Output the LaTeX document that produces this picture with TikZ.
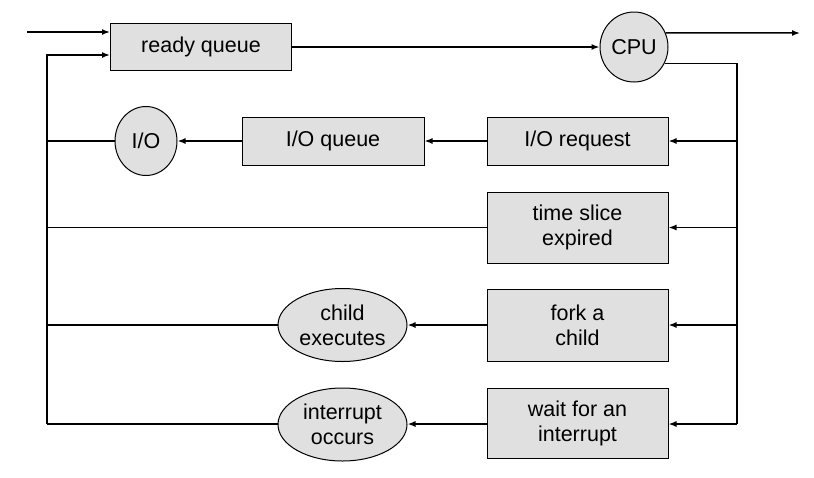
\documentclass[tikz,border=0pt]{standalone}
\usepackage{fontspec}
\setmainfont{Liberation Sans}
\usetikzlibrary{shapes.geometric,arrows.meta}
\begin{document}
\begin{tikzpicture}[x=1pt,y=-1pt,
  every node/.style={font=\fontsize{21.5}{25}\selectfont, align=center, inner sep=0pt},
  box/.style={draw, line width=1pt, fill=black!12, minimum width=181pt},
  circ/.style={draw, line width=1pt, fill=black!12, ellipse},
  ln/.style={line width=1.5pt},
  arr/.style={ln, -{Latex[length=8pt,width=6pt]}}]
\useasboundingbox (0,0) rectangle (814,477);
% nodes
\node[box, minimum height=47pt] (rq) at (201,46.5) {ready queue};
\node[circ, minimum width=68pt, minimum height=70pt] (cpu) at (634,47) {CPU};
\node[box, minimum height=48pt] (ioreq) at (577.5,141) {I/O request};
\node[box, minimum height=48pt, minimum width=182pt] (ioq) at (333,141) {I/O queue};
\node[circ, minimum width=62pt, minimum height=69pt] (io) at (146,141) {I/O};
\node[box, minimum height=71pt] (ts) at (577.5,227.5) {time slice\\expired};
\node[box, minimum height=72pt] (fork) at (577.5,325) {fork a\\child};
\node[circ, minimum width=129pt, minimum height=73pt] (child) at (342.5,325) {child\\executes};
\node[box, minimum height=70pt] (wait) at (577.5,423.5) {wait for an\\interrupt};
\node[circ, minimum width=129pt, minimum height=73pt] (intr) at (342.5,424.5) {interrupt\\occurs};
% coordinates
\coordinate (in) at (27,32);
\coordinate (ltop) at (47,55);
\coordinate (lbot) at (47,424);
\coordinate (rtop) at (737,63);
\coordinate (rbot) at (737,424);
\coordinate (out) at (800,33);
% connectors
\draw[arr] (in) -- (in -| rq.west);
\draw[arr] (lbot) -- (ltop) -- (ltop -| rq.west);
\draw[arr] (rq.east |- cpu.west) -- (cpu.west);
\draw[arr] (cpu.24) -- (out);
\draw[ln] (cpu.-28) -- (cpu.-28 -| rtop) -- (rbot);
\draw[arr] (rtop |- ioreq) -- (ioreq.east);
\draw[arr] (ioreq.west) -- (ioq.east);
\draw[arr] (ioq.west) -- (io.east);
\draw[ln] (io.west) -- (io.west -| ltop);
\draw[arr] (rtop |- ts) -- (ts.east);
\draw[ln] (ts.west) -- (ts.west -| ltop);
\draw[arr] (rtop |- fork) -- (fork.east);
\draw[arr] (fork.west) -- (child.east);
\draw[ln] (child.west) -- (child.west -| ltop);
\draw[arr] (rbot) -- (wait.east |- rbot);
\draw[arr] (wait.west |- rbot) -- (intr.east |- rbot);
\draw[ln] (intr.west |- rbot) -- (lbot);
\end{tikzpicture}
\end{document}
